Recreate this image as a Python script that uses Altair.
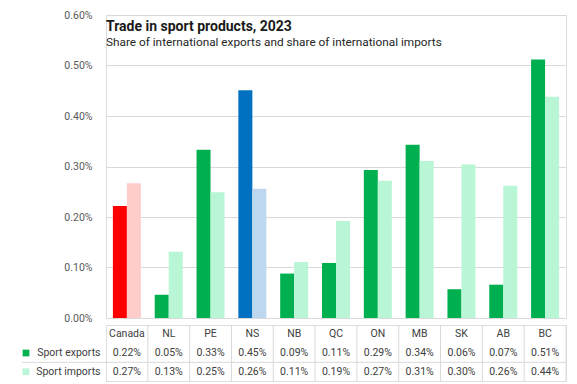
import altair as alt
import pandas as pd

# ---- data ----
regions = ["Canada", "NL", "PE", "NS", "NB", "QC", "ON", "MB", "SK", "AB", "BC"]
exports = [0.222, 0.046, 0.333, 0.451, 0.088, 0.109, 0.293, 0.343, 0.057, 0.066, 0.512]
imports = [0.267, 0.131, 0.249, 0.256, 0.111, 0.192, 0.272, 0.311, 0.304, 0.262, 0.438]
series = ["Sport exports", "Sport imports"]
y_ticks = [0, 0.1, 0.2, 0.3, 0.4, 0.5, 0.6]
title_text = "Trade in sport products, 2023"
subtitle_text = "Share of international exports and share of international imports"

# ---- styles ----
special = {
    ("Canada", "Sport exports"): "#FF0000", ("Canada", "Sport imports"): "#FFCCCC",
    ("NS", "Sport exports"): "#0070C0", ("NS", "Sport imports"): "#BDD7EE",
}
default_col = {"Sport exports": "#00B050", "Sport imports": "#B9F6D5"}
FONT = "Roboto"
TXT = "#404040"
GRID = "#D9D9D9"
W, H_PLOT, H_TAB = 460, 303, 56

rows = []
for i, r in enumerate(regions):
    for s, vals in zip(series, [exports, imports]):
        rows.append({"region": r, "row": s, "value": vals[i],
                     "color": special.get((r, s), default_col[s])})
df = pd.DataFrame(rows)
cat_df = pd.DataFrame({"region": regions, "row": "cat", "label": regions})
sw_df = pd.DataFrame({"row": series, "color": [default_col[s] for s in series]})
title_df = pd.DataFrame({"t": [title_text], "s": [subtitle_text]})

# ---- top panel: bars ----
bars = alt.Chart(df).mark_bar().encode(
    x=alt.X("region:N", sort=regions,
            scale=alt.Scale(paddingInner=0.33, paddingOuter=0.165), axis=None),
    xOffset=alt.XOffset("row:N", sort=series,
                        scale=alt.Scale(paddingInner=0, paddingOuter=0)),
    y=alt.Y("value:Q", scale=alt.Scale(domain=[0, 0.6], nice=False),
            axis=alt.Axis(values=y_ticks, labelExpr="format(datum.value,'.2f')+'%'",
                          grid=True, gridColor=GRID, domain=False, ticks=False,
                          labelPadding=14, labelFontSize=10.5, labelColor="#595959",
                          labelFont=FONT, title=None)),
    color=alt.Color("color:N", scale=None),
)
ttl = alt.Chart(title_df).mark_text(align="left", baseline="alphabetic", fontSize=14,
                                    fontWeight="bold", font=FONT,
                                    color="#1A1A1A").encode(
    x=alt.value(0), y=alt.value(16), text="t:N")
sub = alt.Chart(title_df).mark_text(align="left", baseline="alphabetic", fontSize=11.8,
                                    font=FONT, color="#262626").encode(
    x=alt.value(0), y=alt.value(31), text="s:N")
top = alt.layer(bars, ttl, sub).properties(width=W, height=H_PLOT)

# ---- bottom panel: data table ----
tab_rows = ["cat"] + series
xT = alt.X("region:N", sort=regions, scale=alt.Scale(paddingInner=0, paddingOuter=0), axis=None)
yT = alt.Y("row:N", sort=tab_rows,
           scale=alt.Scale(type="band", domain=tab_rows, paddingInner=0, paddingOuter=0),
           axis=alt.Axis(labelExpr="datum.value=='cat' ? '' : datum.value",
                         domain=False, ticks=False, grid=False, labelPadding=6,
                         labelFontSize=10.5, labelColor=TXT, labelFont=FONT, title=None))

vals_txt = alt.Chart(df).transform_calculate(
    label="format(datum.value,'.2f')+'%'"
).mark_text(fontSize=10.5, font=FONT, color=TXT).encode(x=xT, y=yT, text="label:N")
cat_txt = alt.Chart(cat_df).mark_text(fontSize=10.5, font=FONT, color=TXT).encode(
    x=xT, y=yT, text="label:N")
vlines = alt.Chart(cat_df).transform_filter("datum.region != 'Canada'").mark_rule(
    color=GRID, strokeWidth=1).encode(
    x=alt.X("region:N", sort=regions, bandPosition=0,
            scale=alt.Scale(paddingInner=0, paddingOuter=0), axis=None),
    y=alt.value(0), y2=alt.value(H_TAB))
rline = alt.Chart(sw_df.head(1)).mark_rule(color=GRID).encode(
    x=alt.value(W), y=alt.value(0), y2=alt.value(H_TAB))
hline = alt.Chart(sw_df.tail(1)).mark_rule(color=GRID).encode(
    y=alt.Y("row:N", bandPosition=0, sort=tab_rows,
            scale=alt.Scale(type="band", domain=tab_rows, paddingInner=0, paddingOuter=0)),
    x=alt.value(-84), x2=alt.value(W))
swatch = alt.Chart(sw_df).mark_square(size=45, opacity=1).encode(
    x=alt.value(-80), y=yT, color=alt.Color("color:N", scale=None))

table = alt.layer(vlines, rline, hline, vals_txt, cat_txt, swatch).properties(
    width=W, height=H_TAB)

chart = alt.vconcat(top, table, spacing=0).properties(
    padding={"left": 13, "top": 1, "right": 2, "bottom": 2}
).configure_view(stroke=None).configure(font=FONT)

chart.save("out.html", embed_options={"renderer": "svg", "actions": False})
